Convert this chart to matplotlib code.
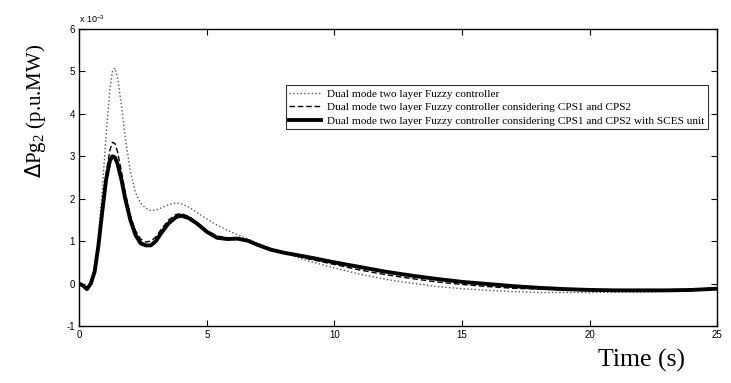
import matplotlib
matplotlib.use('Agg')
import matplotlib.pyplot as plt
from matplotlib.ticker import MultipleLocator

# time axis (s) and responses (x 1e-3 p.u.MW)
time = [0, 0.15, 0.3, 0.45, 0.6, 0.75, 0.9, 1.05, 1.2, 1.3, 1.4, 1.5, 1.65, 1.8,
        2.0, 2.2, 2.4, 2.6, 2.8, 3.0, 3.2, 3.5, 3.8, 4.0, 4.3, 4.6, 5.0, 5.4,
        5.8, 6.2, 6.6, 7.0, 7.5, 8, 9, 10, 11, 12, 13, 14, 15, 16, 17, 18, 19,
        20, 21, 22, 23, 24, 25]

fuzzy = [0, -0.05, -0.12, 0.0, 0.35, 1.1, 2.2, 3.5, 4.6, 5.0, 5.08, 4.85, 4.2, 3.45,
         2.65, 2.15, 1.9, 1.78, 1.72, 1.73, 1.78, 1.86, 1.9, 1.88, 1.8, 1.68, 1.52, 1.38,
         1.26, 1.15, 1.05, 0.95, 0.83, 0.73, 0.53, 0.37, 0.22, 0.1, 0.01, -0.07, -0.12,
         -0.16, -0.19, -0.21, -0.21, -0.21, -0.2, -0.2, -0.18, -0.16, -0.13]

fuzzy_cps = [0, -0.05, -0.13, 0.0, 0.3, 0.95, 1.8, 2.6, 3.15, 3.33, 3.3, 3.1, 2.65, 2.15,
             1.6, 1.25, 1.05, 0.98, 1.0, 1.1, 1.27, 1.5, 1.63, 1.65, 1.58, 1.45, 1.25, 1.12,
             1.08, 1.07, 1.02, 0.92, 0.81, 0.72, 0.58, 0.45, 0.32, 0.21, 0.12, 0.04, -0.02,
             -0.07, -0.11, -0.13, -0.15, -0.16, -0.16, -0.16, -0.16, -0.15, -0.13]

fuzzy_cps_sces = [0, -0.05, -0.13, 0.0, 0.28, 0.9, 1.7, 2.45, 2.9, 3.0, 2.97, 2.82, 2.45, 2.0,
                  1.5, 1.15, 0.95, 0.9, 0.9, 1.0, 1.18, 1.42, 1.57, 1.6, 1.54, 1.42, 1.22, 1.08,
                  1.05, 1.06, 1.01, 0.91, 0.8, 0.73, 0.62, 0.5, 0.39, 0.28, 0.19, 0.11, 0.04,
                  -0.01, -0.06, -0.1, -0.13, -0.15, -0.16, -0.16, -0.16, -0.15, -0.12]

labels = ['Dual mode two layer Fuzzy controller',
          'Dual mode two layer Fuzzy controller considering CPS1 and CPS2',
          'Dual mode two layer Fuzzy controller considering CPS1 and CPS2 with SCES unit']

serif = 'Liberation Serif'
sans = 'Liberation Sans'


def main():
    plt.rcParams['axes.unicode_minus'] = False
    plt.rcParams['mathtext.fontset'] = 'custom'

    fig = plt.figure(figsize=(7.31, 3.83), dpi=100)
    ax = fig.add_axes([0.1085, 0.1488, 0.8725, 0.7755])

    ax.plot(time, fuzzy, ':', color='#555555', lw=1.0, label=labels[0])
    ax.plot(time, fuzzy_cps, '--', color='black', lw=1.0, dashes=(4, 2), label=labels[1])
    ax.plot(time, fuzzy_cps_sces, '-', color='black', lw=2.8, label=labels[2])

    ax.set_xlim(0, 25)
    ax.set_ylim(-1, 6)
    ax.xaxis.set_major_locator(MultipleLocator(5))
    ax.yaxis.set_major_locator(MultipleLocator(1))
    ax.tick_params(direction='in', length=4, width=0.8, top=True, right=True,
                   labelsize=7, pad=3)
    for lab in ax.get_xticklabels() + ax.get_yticklabels():
        lab.set_family(sans)
    for s in ax.spines.values():
        s.set_linewidth(1.0)

    ax.text(0.0, 1.012, r'x 10$^{\mathregular{-3}}$', transform=ax.transAxes,
            fontsize=6.5, family=sans, ha='left', va='bottom')

    fig.text(0.877, 0.06, 'Time (s)', family=serif, fontsize=18.5, ha='center', va='center')
    fig.text(0.048, 0.71, r'$\Delta$Pg$_{\mathregular{2}}$ (p.u.MW)', family=serif,
             fontsize=15, rotation=90, ha='center', va='center')

    leg = ax.legend(loc='upper right', bbox_to_anchor=(0.986, 0.8114), borderaxespad=0,
                    prop={'family': serif, 'size': 8.15}, frameon=True, fancybox=False,
                    edgecolor='black', handlelength=2.8, handletextpad=0.5,
                    labelspacing=0.3, borderpad=0.35)
    leg.get_frame().set_linewidth(0.8)

    fig.savefig('out.png', dpi=100)


if __name__ == '__main__':
    main()
